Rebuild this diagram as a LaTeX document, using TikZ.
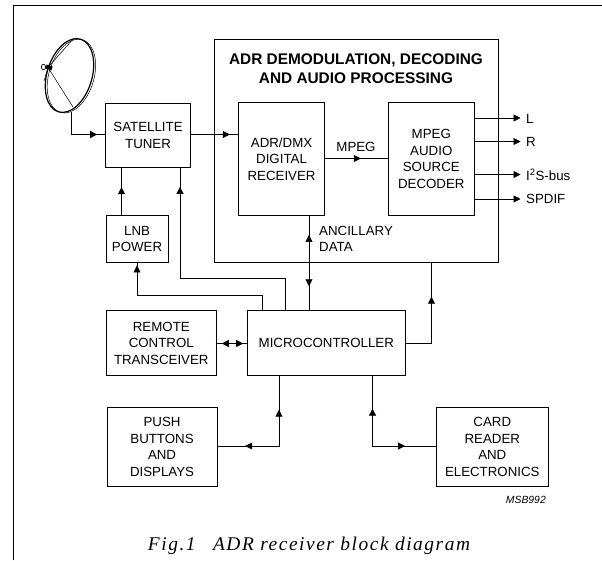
\documentclass[tikz,border=0pt]{standalone}
\usepackage{fontspec}
\setmainfont{Liberation Sans}
\newfontfamily\capfont[LetterSpace=8]{Liberation Serif}
\usetikzlibrary{arrows.meta,decorations.markings}
\tikzset{
  x=1pt,y=-1pt,
  blockbox/.style={draw,line width=1.1pt,inner sep=0pt,anchor=north west,align=center,font=\fontsize{13.3}{16.5}\selectfont},
  wire/.style={draw,line width=0.7pt},
  txt/.style={inner sep=0pt,font=\fontsize{13.3}{16}\selectfont},
  tip/.style={-{Triangle[length=7pt,width=7pt]}},
  mid/.style={postaction={decorate},decoration={markings,mark=at position #1 with {\arrow{Triangle[length=7pt,width=7pt]}}}},
  duo/.style 2 args={postaction={decorate},decoration={markings,
     mark=at position #1 with {\arrowreversed{Triangle[length=7pt,width=7pt]}},
     mark=at position #2 with {\arrow{Triangle[length=7pt,width=7pt]}}}}
}
\newcommand{\blk}[6]{\node[blockbox,minimum width=#4pt-#2pt,minimum height=#5pt-#3pt] (#1) at (#2,#3) {#6};}
\begin{document}
\begin{tikzpicture}
\useasboundingbox (0,0) rectangle (602,560);
% frame
\draw[line width=0.8pt] (13,560) -- (13,5) -- (602,5);
% big box
\node[blockbox,minimum width=284pt,minimum height=223pt,line width=1pt] (big) at (214,39) {};
\node[txt,font=\fontsize{15.4}{19}\selectfont\bfseries,align=center] (title) at (356,68.5) {ADR DEMODULATION, DECODING\\AND AUDIO PROCESSING};
\blk{tuner}{105}{103}{190}{167}{SATELLITE\\TUNER}
\blk{adr}{238}{102}{324}{215}{ADR/DMX\\DIGITAL\\RECEIVER}
\blk{mpeg}{387.5}{102}{474}{215}{MPEG\\AUDIO\\SOURCE\\DECODER}
\blk{lnb}{105.5}{215}{167.5}{262}{LNB\\POWER}
\blk{remote}{106}{310}{215.5}{375}{REMOTE\\CONTROL\\TRANSCEIVER}
\blk{micro}{247}{310}{404.5}{375}{MICROCONTROLLER}
\blk{push}{106.5}{407}{216.5}{486}{PUSH\\BUTTONS\\AND\\DISPLAYS}
\blk{card}{436}{407}{547.5}{486}{CARD\\READER\\AND\\ELECTRONICS}
% dish
\begin{scope}[shift={(69.5,75.5)},rotate=-17]
  \draw[line width=0.5pt] (2,0) ellipse [x radius=22.5,y radius=38];
  \draw[line width=1.2pt] (0,0) ellipse [x radius=22.5,y radius=38];
\end{scope}
\coordinate (feed) at (48,67.5);
\coordinate (dishA) at (73.5,38.5);
\coordinate (dishB) at (73,107);
\coordinate (dishC) at (44,81);
\draw[line width=0.5pt] (feed) -- (dishA) (feed) -- (dishB) (feed) -- (dishC);
\draw[line width=4pt] (46,66.5) -- (52,68.5);
\draw[line width=0.7pt,fill=white] (43.5,67) circle [x radius=2.2,y radius=2.8];
% connectors
\coordinate (d0) at (71.5,112);
\path[wire,mid=0.86] (d0) |- (105,134.5);
\path[wire,mid=0.83] (190,134.5) -- (238,134.5);
\path[wire,mid=0.58] (121.5,215) -- (121.5,167);
\path[wire,mid=0.58] (324,158.5) -- (387.5,158.5);
\path[wire,tip] (474,118) -- (520.5,118);
\path[wire,tip] (474,141.5) -- (520.5,141.5);
\path[wire,tip] (474,174.5) -- (520.5,174.5);
\path[wire,tip] (474,199) -- (520.5,199);
\coordinate (mA) at (285,310);
\coordinate (mB) at (262.5,310);
\path[wire,mid=0.92] (mA) |- (180,278) -- (180,167);
\path[wire,mid=0.98] (mB) |- (137,295) -- (137,262);
% micro <-> adr
\path[wire,duo={0.25}{0.79}] (309,310) -- (309,215);
% micro -> big
\path[wire,mid=0.68] (404.5,343.5) -| (431.5,262);
% remote <-> micro
\path[wire,duo={0.2}{0.88}] (215.5,343.5) -- (247,343.5);
% push <-> micro
\path[wire,duo={0.215}{0.74}] (216.5,446) -| (279,375);
% card <-> micro
\path[wire,duo={0.25}{0.77}] (372.5,375) |- (436,446);
% labels
\node[txt,anchor=west] (lL) at (526,118.5) {L};
\node[txt,anchor=west] (lR) at (526,142) {R};
\node[txt,anchor=west] (lI) at (526,175) {I\textsuperscript{2}S-bus};
\node[txt,anchor=west] (lS) at (526,199) {SPDIF};
\node[txt] (lM) at (356,147) {MPEG};
\node[txt,anchor=west,align=left,font=\fontsize{13.3}{15.5}\selectfont] (lA) at (319,239) {ANCILLARY\\DATA};
\node[txt,anchor=east,font=\fontsize{10.4}{10}\selectfont\itshape] (msb) at (546,499.5) {MSB992};
\node[txt,font=\capfont\fontsize{19.4}{20}\selectfont\itshape] (cap) at (309,546) {Fig.1\hspace{0.9em}ADR receiver block diagram};
\end{tikzpicture}
\end{document}
